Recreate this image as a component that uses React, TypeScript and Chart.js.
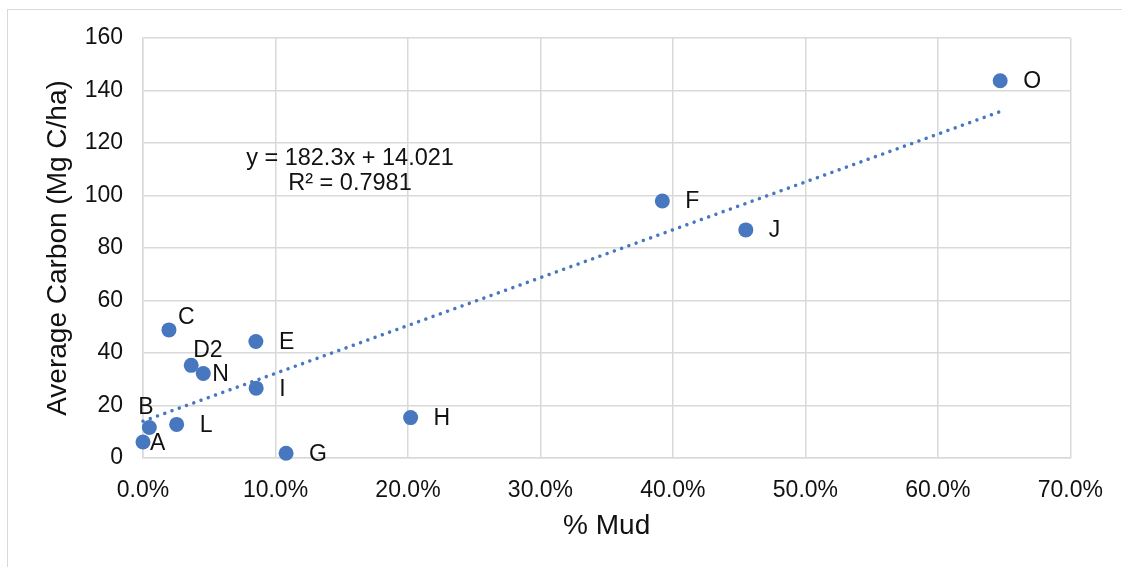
import React, { useEffect, useRef } from "react";
import { Chart, registerables } from "chart.js";

Chart.register(...registerables);

// Site labels
const siteLabels = ["A", "B", "L", "C", "D2", "N", "E", "I", "G", "H", "F", "J", "O"];
// % Mud (fraction)
const mudValues = [0.0, 0.0048, 0.0254, 0.0196, 0.0364, 0.0455, 0.0852, 0.0854, 0.108, 0.202, 0.392, 0.455, 0.647];
// Average Carbon (Mg C/ha)
const carbonValues = [6.1, 11.6, 12.8, 48.8, 35.3, 32.2, 44.4, 26.6, 1.8, 15.4, 97.9, 86.9, 143.7];

// Linear trendline from the chart
const trendSlope = 182.3;
const trendIntercept = 14.021;
const trendEquation = "y = 182.3x + 14.021";
const trendR2 = "R² = 0.7981";

const xTickValues = [0, 0.1, 0.2, 0.3, 0.4, 0.5, 0.6, 0.7];
const yTickValues = [0, 20, 40, 60, 80, 100, 120, 140, 160];

const FONT = "'Liberation Sans', Arial, sans-serif";
const BLUE = "#4677bf";
const GRID = "#d9d9d9";
const TEXT = "#111111";

// label placement: [dx to text left edge, dy to text centre]
const labelPlacement: Record<string, [number, number]> = {
  A: [7, 2],
  B: [-11, -20],
  C: [9, -12],
  D2: [2, -14.5],
  N: [9, 1],
};
const defaultPlacement: [number, number] = [23, 1];

const xMin = Math.min(...mudValues);
const xMax = Math.max(...mudValues);

const overlayPlugin = {
  id: "overlay",
  beforeDraw(chart: any) {
    const ctx = chart.ctx;
    ctx.save();
    ctx.fillStyle = "#ffffff";
    ctx.fillRect(0, 0, chart.width, chart.height);
    ctx.strokeStyle = GRID;
    ctx.lineWidth = 1;
    ctx.strokeRect(7.5, 9.5, chart.width + 20, chart.height + 20);
    ctx.restore();
  },
  afterDatasetsDraw(chart: any) {
    const ctx = chart.ctx;
    const meta = chart.getDatasetMeta(0);
    ctx.save();
    ctx.font = `23px ${FONT}`;
    ctx.fillStyle = TEXT;
    ctx.textBaseline = "middle";
    ctx.textAlign = "left";
    meta.data.forEach((pt: any, i: number) => {
      const lbl = siteLabels[i];
      const [dx, dy] = labelPlacement[lbl] || defaultPlacement;
      ctx.fillText(lbl, pt.x + dx, pt.y + dy);
    });
    const area = chart.chartArea;
    ctx.textAlign = "center";
    ctx.font = `23.5px ${FONT}`;
    ctx.fillText(trendEquation, area.left + 207, area.top + 121);
    ctx.fillText(trendR2, area.left + 207, area.top + 146);
    ctx.restore();
  },
};

export default function App() {
  const ref = useRef<HTMLCanvasElement>(null);
  useEffect(() => {
    if (!ref.current) return;
    const chart = new Chart(ref.current, {
      type: "scatter",
      data: {
        datasets: [
          {
            type: "scatter",
            label: "Carbon",
            data: mudValues.map((x, i) => ({ x, y: carbonValues[i] })),
            backgroundColor: BLUE,
            borderWidth: 0,
            pointRadius: 7.5,
            clip: false,
            order: 1,
          } as any,
          {
            type: "line",
            label: "Trend",
            data: [
              { x: xMin, y: trendSlope * xMin + trendIntercept },
              { x: xMax, y: trendSlope * xMax + trendIntercept },
            ],
            borderColor: BLUE,
            borderWidth: 3.5,
            borderDash: [0.01, 7.7],
            borderCapStyle: "round",
            pointRadius: 0,
            fill: false,
            clip: false,
            order: 2,
          } as any,
        ],
      },
      options: {
        animation: false,
        responsive: false,
        maintainAspectRatio: false,
        layout: { padding: { top: 38, right: 51, left: 0, bottom: 0 } },
        plugins: {
          legend: { display: false },
          tooltip: { enabled: false },
        },
        scales: {
          x: {
            type: "linear",
            min: 0,
            max: 0.7,
            afterBuildTicks: (scale: any) => {
              scale.ticks = xTickValues.map((v) => ({ value: v }));
            },
            afterFit: (scale: any) => {
              scale.height = 109;
            },
            ticks: {
              callback: (v: any) => (Number(v) * 100).toFixed(1) + "%",
              font: { family: FONT, size: 23 },
              color: TEXT,
              padding: 19,
              maxRotation: 0,
            },
            grid: { color: GRID, lineWidth: 1.5, drawTicks: false },
            border: { color: GRID, width: 1.5 },
            title: {
              display: true,
              text: "% Mud",
              font: { family: FONT, size: 28 },
              color: TEXT,
              padding: { top: 0, bottom: 24 },
            },
          },
          y: {
            type: "linear",
            min: 0,
            max: 160,
            afterBuildTicks: (scale: any) => {
              scale.ticks = yTickValues.map((v) => ({ value: v }));
            },
            afterFit: (scale: any) => {
              scale.width = 143;
            },
            ticks: {
              font: { family: FONT, size: 23 },
              color: TEXT,
              padding: 20,
            },
            grid: { color: GRID, lineWidth: 1.5, drawTicks: false },
            border: { color: GRID, width: 1.5 },
            title: {
              display: true,
              text: "Average Carbon (Mg C/ha)",
              font: { family: FONT, size: 28 },
              color: TEXT,
              padding: { top: 41, bottom: 0 },
            },
          },
        },
      },
      plugins: [overlayPlugin],
    });
    return () => chart.destroy();
  }, []);
  return (
    <div style={{ position: "absolute", left: 0, top: 0, width: 1122, height: 567 }}>
      <canvas ref={ref} width={1122} height={567} style={{ width: 1122, height: 567, display: "block" }} />
    </div>
  );
}
